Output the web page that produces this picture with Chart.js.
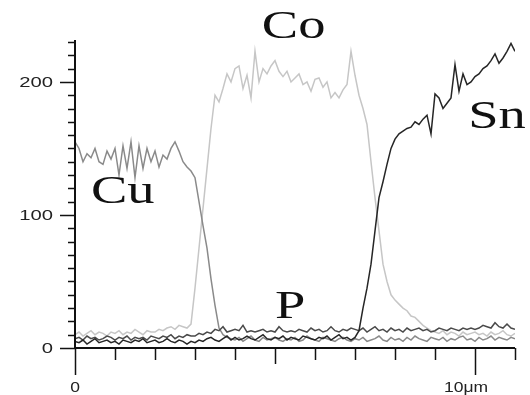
<!DOCTYPE html>
<html>
<head>
<meta charset="utf-8">
<script src="https://cdn.jsdelivr.net/npm/chart.js@4/dist/chart.umd.min.js"></script>
<style>
  body { margin: 0; background: #fff; }
  #wrap { width: 530px; height: 395px; }
</style>
</head>
<body>
<div id="wrap"><canvas id="c" width="530" height="395"></canvas></div>
<script>
// line scan, one reading every 0.1 µm from 0 to 11 µm
const stepUm = 0.1;

const cu = [
  155, 150, 140, 146, 143, 150, 140, 138, 148, 142,
  150, 130, 152, 135, 155, 128, 152, 135, 150, 140,
  148, 136, 145, 142, 150, 155, 148, 140, 136, 133,
  128, 110, 92, 75, 52, 32, 15, 10, 8, 7,
  6, 8, 5, 7, 9, 6, 5, 8, 6, 7,
  8, 6, 5, 7, 6, 8, 5, 6, 9, 7,
  6, 5, 8, 7, 6, 5, 7, 8, 6, 5,
  7, 6, 8, 5, 6, 7, 9, 6, 5, 8,
  6, 7, 5, 8, 6, 9, 7, 6, 5, 8,
  7, 6, 8, 5, 7, 6, 8, 9, 6, 7,
  5, 8, 6, 7, 9, 6, 8, 7, 6, 8, 7
];

const co = [
  10, 12, 9, 11, 13, 10, 12, 11, 9, 12,
  11, 13, 10, 12, 11, 14, 12, 10, 13, 12,
  12, 14, 13, 15, 16, 14, 17, 16, 15, 18,
  45, 75, 105, 135, 165, 190, 185, 195, 206, 200,
  210, 212, 195, 205, 188, 223, 200, 210, 206, 212,
  216, 208, 204, 208, 200, 203, 206, 198, 200, 193,
  202, 203, 196, 200, 188, 192, 188, 194, 198, 223,
  205, 190, 180, 168, 140, 113, 88, 63, 50, 40,
  36, 33, 30, 28, 24, 23, 20, 17, 15, 13,
  12, 11, 13, 10, 12, 11, 9, 12, 10, 11,
  12, 10, 11, 9, 12, 10, 11, 13, 10, 9, 11
];

const sn = [
  5, 4, 6, 3, 5, 7, 4, 5, 6, 4,
  5, 3, 6, 5, 4, 6, 5, 7, 4, 5,
  6, 4, 5, 7, 5, 4, 6, 5, 3, 5,
  4, 6, 5, 7, 8, 6, 5, 7, 9, 6,
  8, 6, 7, 9, 7, 6, 8, 10, 7, 6,
  8, 7, 9, 6, 8, 7, 6, 9, 8, 7,
  6, 8, 7, 9, 6, 8, 10, 7, 8, 6,
  8, 13, 30, 45, 63, 88, 113, 125, 138, 150,
  157, 161, 163, 165, 166, 170, 168, 172, 175, 161,
  191, 188, 180, 184, 188, 213, 193, 206, 198, 200,
  204, 206, 210, 212, 216, 221, 214, 218, 223, 229, 223
];

const p = [
  7, 8, 6, 9, 7, 8, 6, 7, 9, 8,
  6, 8, 7, 9, 6, 8, 7, 8, 6, 9,
  8, 7, 9, 8, 10, 7, 9, 8, 10, 9,
  9, 11, 10, 12, 11, 14, 13, 16, 12, 13,
  14, 13, 17, 12, 13, 12, 13, 14, 12, 13,
  12, 16, 13, 12, 13, 12, 14, 13, 12, 15,
  13, 14, 12, 13, 16, 13, 12, 14, 13, 15,
  14, 13, 15, 12, 14, 16, 13, 14, 12, 15,
  13, 14, 12, 15, 13, 14, 15, 13, 14, 12,
  13, 15, 14, 13, 15, 14, 13, 15, 14, 15,
  14, 15, 17, 16, 15, 19, 16, 15, 18, 15, 14
];

const xTicks = [0, 1, 2, 3, 4, 5, 6, 7, 8, 9, 10, 11];
const xLabels = { 0: '0', 10: '10μm' };
const yMajor = [0, 100, 200];
const yMinorStep = 10;
const yMax = 231.5;

// element names and where they sit, in data units (µm, counts)
const elementLabels = [
  { text: 'Co', x: 4.67, y: 233 },
  { text: 'Sn', x: 9.83, y: 165 },
  { text: 'Cu', x: 0.4, y: 109 },
  { text: 'P', x: 5.0, y: 22.6 }
];

function toPoints(vals) {
  return vals.map((v, i) => ({ x: +(i * stepUm).toFixed(1), y: v }));
}

const axesPlugin = {
  id: 'oldAxes',
  afterDraw(chart) {
    const ctx = chart.ctx;
    const xs = chart.scales.x, ys = chart.scales.y;
    const x0 = xs.getPixelForValue(0), y0 = ys.getPixelForValue(0);
    ctx.save();
    ctx.strokeStyle = '#111';
    ctx.lineWidth = 2;
    ctx.beginPath();
    // y axis
    ctx.moveTo(x0, ys.getPixelForValue(yMax));
    ctx.lineTo(x0, y0);
    // x axis
    ctx.moveTo(x0, y0);
    ctx.lineTo(xs.getPixelForValue(11), y0);
    ctx.stroke();

    ctx.lineWidth = 1.5;
    ctx.beginPath();
    for (let v = 0; v <= yMax; v += yMinorStep) {
      const y = Math.round(ys.getPixelForValue(v)) + 0.5;
      const len = yMajor.includes(v) ? 15 : 7;
      ctx.moveTo(x0 - len, y);
      ctx.lineTo(x0, y);
    }
    xTicks.forEach(t => {
      const x = Math.round(xs.getPixelForValue(t)) + 0.5;
      let len = 12;
      if (t === 5) len = 16;
      if (t === 0 || t === 10) len = 27;
      ctx.moveTo(x, y0);
      ctx.lineTo(x, y0 + len);
    });
    ctx.stroke();

    // tick labels
    ctx.fillStyle = '#222';
    ctx.font = '15px "Liberation Sans", Arial, sans-serif';
    ctx.textBaseline = 'middle';
    yMajor.forEach(v => {
      const y = ys.getPixelForValue(v) + 1;
      ctx.save();
      ctx.translate(53, y);
      ctx.scale(1.35, 1);
      ctx.textAlign = 'right';
      ctx.fillText(String(v), 0, 0);
      ctx.restore();
    });
    ctx.font = '14px "Liberation Sans", Arial, sans-serif';
    Object.keys(xLabels).forEach(k => {
      const x = xs.getPixelForValue(+k);
      const txt = xLabels[k];
      ctx.save();
      ctx.translate(k == 10 ? x - 9 : x, y0 + 40);
      ctx.scale(1.25, 1);
      ctx.textAlign = 'center';
      ctx.fillText(txt, 0, 0);
      ctx.restore();
    });

    // element names, stretched serif like the original
    ctx.fillStyle = '#111';
    ctx.font = '41px "Liberation Serif", "Times New Roman", serif';
    ctx.textBaseline = 'alphabetic';
    ctx.textAlign = 'left';
    elementLabels.forEach(l => {
      ctx.save();
      ctx.translate(xs.getPixelForValue(l.x), ys.getPixelForValue(l.y));
      ctx.scale(1.33, 1);
      ctx.fillText(l.text, 0, 0);
      ctx.restore();
    });
    ctx.restore();
  }
};

const lineStyle = { pointRadius: 0, borderWidth: 1.5, tension: 0, fill: false };

new Chart(document.getElementById('c'), {
  type: 'line',
  data: {
    datasets: [
      Object.assign({ label: 'Sn', data: toPoints(sn), borderColor: '#262626' }, lineStyle),
      Object.assign({ label: 'P', data: toPoints(p), borderColor: '#4a4a4a' }, lineStyle),
      Object.assign({ label: 'Cu', data: toPoints(cu), borderColor: '#8a8a8a' }, lineStyle),
      Object.assign({ label: 'Co', data: toPoints(co), borderColor: '#c6c6c6' }, lineStyle)
    ]
  },
  options: {
    responsive: false,
    animation: false,
    events: [],
    layout: { padding: { left: 75, right: 15, top: 40, bottom: 47 } },
    plugins: { legend: { display: false }, tooltip: { enabled: false } },
    scales: {
      x: { type: 'linear', min: 0, max: 11, display: false },
      y: { min: 0, max: yMax, display: false }
    }
  },
  plugins: [axesPlugin]
});
</script>
</body>
</html>
